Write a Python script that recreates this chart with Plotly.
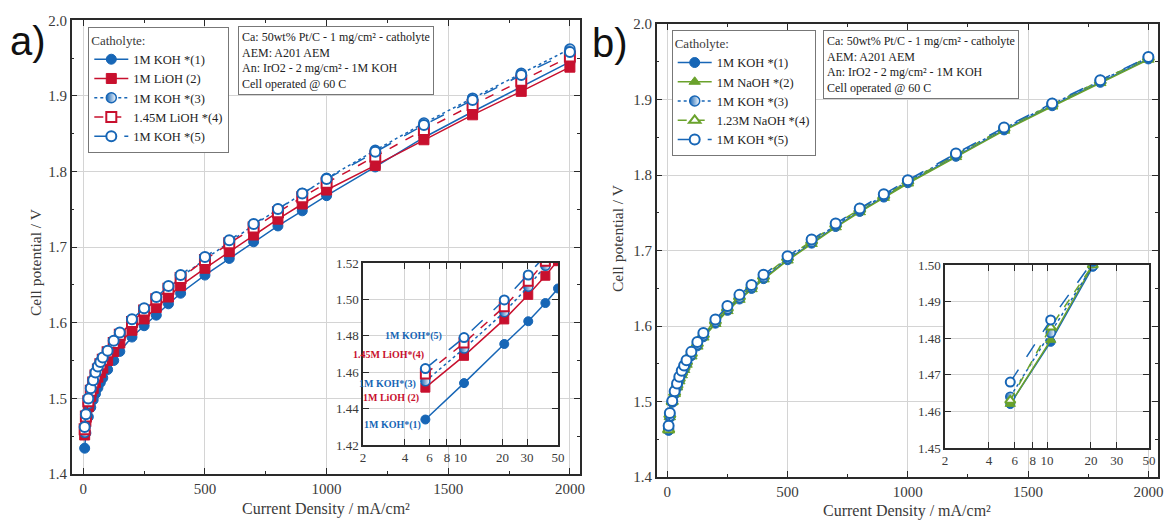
import math
import plotly.graph_objects as go

W, H = 1167, 521

# ---------------- data ----------------
current = [5.6, 10.6, 20.6, 30.6, 40.6, 50, 60, 70, 80, 100, 125, 150, 200, 250, 300,
           350, 400, 500, 600, 700, 800, 900, 1000, 1200, 1400, 1600, 1800, 2000]

# panel a)
a_koh1 = [1.434, 1.454, 1.4755, 1.488, 1.498, 1.506, 1.514, 1.521, 1.527, 1.538, 1.550, 1.562,
          1.581, 1.596, 1.610, 1.625, 1.639, 1.663, 1.685, 1.707, 1.728, 1.748, 1.768, 1.806,
          1.845, 1.879, 1.912, 1.945]
a_lioh2 = [1.4515, 1.469, 1.489, 1.5025, 1.513, 1.521, 1.528, 1.534, 1.540, 1.550, 1.562, 1.573,
           1.590, 1.605, 1.620, 1.634, 1.649, 1.672, 1.694, 1.716, 1.737, 1.757, 1.7755, 1.808,
           1.842, 1.875, 1.906, 1.938]
a_koh3 = [1.455, 1.473, 1.493, 1.507, 1.5185, 1.528, 1.536, 1.543, 1.549, 1.560, 1.572, 1.583,
          1.601, 1.616, 1.631, 1.646, 1.660, 1.684, 1.707, 1.729, 1.750, 1.771, 1.791, 1.828,
          1.864, 1.897, 1.930, 1.962]
a_lioh4 = [1.459, 1.476, 1.496, 1.510, 1.521, 1.530, 1.538, 1.545, 1.551, 1.561, 1.573, 1.584,
           1.601, 1.616, 1.631, 1.645, 1.659, 1.683, 1.705, 1.726, 1.746, 1.766, 1.785, 1.820,
           1.855, 1.888, 1.920, 1.952]
a_koh5 = [1.462, 1.479, 1.4997, 1.5134, 1.524, 1.534, 1.542, 1.548, 1.554, 1.563, 1.576, 1.587,
          1.6045, 1.619, 1.634, 1.6485, 1.663, 1.687, 1.709, 1.7306, 1.7504, 1.771, 1.790, 1.826,
          1.8615, 1.8946, 1.9276, 1.958]

# panel b)
b_koh1 = [1.462, 1.479, 1.4995, 1.510, 1.519, 1.528, 1.536, 1.543, 1.550, 1.561, 1.574, 1.586,
          1.604, 1.621, 1.636, 1.650, 1.663, 1.688, 1.710, 1.732, 1.752, 1.771, 1.790, 1.825,
          1.860, 1.892, 1.923, 1.954]
b_naoh2 = [1.462, 1.4795, 1.500, 1.510, 1.519, 1.527, 1.535, 1.542, 1.549, 1.560, 1.573, 1.585,
           1.603, 1.620, 1.635, 1.649, 1.662, 1.687, 1.709, 1.731, 1.751, 1.770, 1.789, 1.824,
           1.859, 1.891, 1.922, 1.953]
b_koh3 = [1.464, 1.4815, 1.4998, 1.512, 1.521, 1.530, 1.538, 1.545, 1.552, 1.563, 1.576, 1.588,
          1.606, 1.623, 1.638, 1.652, 1.665, 1.690, 1.712, 1.734, 1.754, 1.773, 1.792, 1.827,
          1.862, 1.894, 1.925, 1.956]
b_naoh4 = [1.463, 1.483, 1.500, 1.512, 1.522, 1.531, 1.539, 1.546, 1.553, 1.564, 1.577, 1.589,
           1.607, 1.624, 1.639, 1.653, 1.666, 1.691, 1.713, 1.735, 1.755, 1.773, 1.792, 1.827,
           1.862, 1.894, 1.925, 1.956]
b_koh5 = [1.468, 1.485, 1.501, 1.514, 1.524, 1.533, 1.541, 1.548, 1.555, 1.566, 1.579, 1.591,
          1.609, 1.6269, 1.6415, 1.6547, 1.668, 1.6925, 1.7148, 1.736, 1.756, 1.7748, 1.7934,
          1.8287, 1.8632, 1.895, 1.9258, 1.9567]

labels_a = ["1M KOH *(1)", "1M LiOH (2)", "1M KOH *(3)", "1.45M LiOH *(4)", "1M KOH *(5)"]
labels_b = ["1M KOH *(1)", "1M NaOH *(2)", "1M KOH *(3)", "1.23M NaOH *(4)", "1M KOH *(5)"]
inset_labels_a = ["1M KOH*(1)", "1M LiOH (2)", "1M KOH*(3)", "1.45M LiOH*(4)", "1M KOH*(5)"]
info_lines = ["Ca: 50wt% Pt/C - 1 mg/cm² - catholyte", "AEM: A201 AEM",
              "An: IrO2 - 2 mg/cm² - 1M KOH", "Cell operated @ 60 C"]
inset_xticks = [2, 4, 6, 8, 10, 20, 30, 50]

# ---------------- style ----------------
SERIF = "Liberation Serif"
BLUE = "#1766b6"
RED = "#c8102e"
GREEN = "#6aa22c"
FRAME = "#2a2a2a"
GRID = "#d4d4d4"
TXT = "#3a3a3a"


def px_x(p):
    return p / W


def px_y(p):
    return 1 - p / H


def style(kind, color):
    if kind == "fc":
        return dict(symbol="circle", color=color, line=dict(color=color, width=1)), "solid"
    if kind == "fs":
        return dict(symbol="square", color=color, line=dict(color=color, width=1)), "solid"
    if kind == "ft":
        return dict(symbol="triangle-up", color=color, line=dict(color=color, width=1)), "solid"
    if kind == "hc":
        return dict(symbol="circle", color=color, gradient=dict(type="horizontal", color="white"),
                    line=dict(color=color, width=1.5)), "dot"
    if kind == "os":
        return dict(symbol="square", color="white", line=dict(color=color, width=2)), "dash"
    if kind == "ot":
        return dict(symbol="triangle-up", color="white", line=dict(color=color, width=2)), "dash"
    if kind == "oc":
        return dict(symbol="circle", color="white", line=dict(color=color, width=2)), "longdash"


series_a = [(a_koh1, "fc", BLUE), (a_lioh2, "fs", RED), (a_koh3, "hc", BLUE),
            (a_lioh4, "os", RED), (a_koh5, "oc", BLUE)]
series_b = [(b_koh1, "fc", BLUE), (b_naoh2, "ft", GREEN), (b_koh3, "hc", BLUE),
            (b_naoh4, "ot", GREEN), (b_koh5, "oc", BLUE)]

fig = go.Figure()

for (vals, kind, col), name in zip(series_a, labels_a):
    mk, dash = style(kind, col)
    fig.add_trace(go.Scatter(x=current, y=vals, name=name, mode="lines+markers",
                             line=dict(color=col, width=1.5, dash=dash),
                             marker=dict(size=10, **mk), xaxis="x", yaxis="y", legend="legend"))
for (vals, kind, col), name in zip(series_b, labels_b):
    mk, dash = style(kind, col)
    fig.add_trace(go.Scatter(x=current, y=vals, name=name, mode="lines+markers",
                             line=dict(color=col, width=1.5, dash=dash),
                             marker=dict(size=10, **mk), xaxis="x2", yaxis="y2", legend="legend2"))
for (vals, kind, col), name in zip(series_a, labels_a):
    mk, dash = style(kind, col)
    fig.add_trace(go.Scatter(x=current, y=vals, name=name, mode="lines+markers", showlegend=False,
                             line=dict(color=col, width=1.5, dash=dash),
                             marker=dict(size=9, **mk), xaxis="x3", yaxis="y3"))
for (vals, kind, col), name in zip(series_b, labels_b):
    mk, dash = style(kind, col)
    fig.add_trace(go.Scatter(x=current, y=vals, name=name, mode="lines+markers", showlegend=False,
                             line=dict(color=col, width=1.5, dash=dash),
                             marker=dict(size=9, **mk), xaxis="x4", yaxis="y4"))


def axis_common(fs):
    return dict(showline=True, linecolor=FRAME, linewidth=1.5, mirror="ticks", ticks="inside",
                tickcolor=FRAME, ticklen=6, tickwidth=1.2, showgrid=True, gridcolor=GRID,
                gridwidth=1, zeroline=False, automargin=False,
                tickfont=dict(family=SERIF, size=fs, color=TXT))


def main_x(dom, rng, anchor):
    return dict(domain=dom, range=rng, anchor=anchor, tick0=0, dtick=500,
                minor=dict(dtick=250, ticks="inside", ticklen=3, tickcolor=FRAME, showgrid=False),
                **axis_common(15))


def main_y(dom, anchor):
    return dict(domain=dom, range=[1.4, 2.0], anchor=anchor, tick0=1.4, dtick=0.1, tickformat=".1f",
                minor=dict(dtick=0.05, ticks="inside", ticklen=3, tickcolor=FRAME, showgrid=False),
                **axis_common(15))


def inset_x(dom, anchor):
    return dict(domain=dom, type="log", range=[math.log10(2), math.log10(50)], anchor=anchor,
                tickmode="array", tickvals=inset_xticks, ticktext=[str(v) for v in inset_xticks],
                **axis_common(13))


def inset_y(dom, rng, dt, anchor):
    return dict(domain=dom, range=rng, dtick=dt, tick0=rng[0], tickformat=".2f", anchor=anchor,
                **axis_common(13))


def legend_box(xp, yp):
    return dict(x=px_x(xp), y=px_y(yp), xanchor="left", yanchor="top",
                title=dict(text="Catholyte:", font=dict(family=SERIF, size=13, color=TXT)),
                font=dict(family=SERIF, size=12.5, color="#222"), bgcolor="white",
                bordercolor="#777", borderwidth=1, itemwidth=34, tracegroupgap=0)


fig.update_layout(
    template="none",
    width=W, height=H, margin=dict(l=0, r=0, t=0, b=0, pad=0, autoexpand=False),
    paper_bgcolor="white", plot_bgcolor="white",
    font=dict(family=SERIF, color=TXT),
    xaxis=main_x([px_x(71.7), px_x(580)], [-47.7, 2041.5], "y"),
    yaxis=main_y([px_y(473.9), px_y(20.3)], "x"),
    xaxis2=main_x([px_x(656.7), px_x(1158)], [-44, 2040], "y2"),
    yaxis2=main_y([px_y(477.2), px_y(24.2)], "x2"),
    xaxis3=inset_x([px_x(363), px_x(558)], "y3"),
    yaxis3=inset_y([px_y(445), px_y(263)], [1.42, 1.52], 0.02, "x3"),
    xaxis4=inset_x([px_x(945), px_x(1149)], "y4"),
    yaxis4=inset_y([px_y(448), px_y(265)], [1.45, 1.50], 0.01, "x4"),
    legend=legend_box(88.3, 26.7),
    legend2=legend_box(671.7, 30),
    showlegend=True,
)

ann = []
info_text = "<br>".join(info_lines)
for xp, yp in [(238.3, 26), (822.7, 30)]:
    ann.append(dict(x=px_x(xp), y=px_y(yp), xref="paper", yref="paper", xanchor="left",
                    yanchor="top", text=info_text, align="left", showarrow=False,
                    font=dict(family=SERIF, size=12, color="#222"), bgcolor="white",
                    bordercolor="#777", borderwidth=1, borderpad=3))

# axis titles
for cx, cy in [(326, 509), (907, 511)]:
    ann.append(dict(x=px_x(cx), y=px_y(cy), xref="paper", yref="paper", showarrow=False,
                    xanchor="center", yanchor="middle",
                    text="Current Density / mA/cm²",
                    font=dict(family=SERIF, size=16, color=TXT)))
for cx, cy in [(35, 262), (617, 238)]:
    ann.append(dict(x=px_x(cx), y=px_y(cy), xref="paper", yref="paper", showarrow=False,
                    xanchor="center", yanchor="middle",
                    text="Cell potential / V", textangle=-90,
                    font=dict(family=SERIF, size=15.5, color=TXT)))

# panel letters
ann.append(dict(x=px_x(8), y=px_y(41), xref="paper", yref="paper", xanchor="left", yanchor="middle",
                showarrow=False, text="a)", font=dict(family="Liberation Sans", size=40, color="#111")))
ann.append(dict(x=px_x(590), y=px_y(43), xref="paper", yref="paper", xanchor="left", yanchor="middle",
                showarrow=False, text="b)", font=dict(family="Liberation Sans", size=40, color="#111")))

# inset labels (panel a)
inset_label_pos = [(423, 425, BLUE), (421, 398, RED), (418, 384, BLUE), (426, 355, RED), (444, 336, BLUE)]
for txt, (xr, yc, col) in zip(inset_labels_a, inset_label_pos):
    ann.append(dict(x=px_x(xr), y=px_y(yc), xref="paper", yref="paper", xanchor="right",
                    yanchor="middle", showarrow=False, text="<b>" + txt + "</b>",
                    font=dict(family=SERIF, size=10, color=col)))

fig.update_layout(annotations=ann)

fig.write_html("out.html", config={"displayModeBar": False},
               post_script="document.body.style.margin='0';document.body.style.overflow='hidden';")
